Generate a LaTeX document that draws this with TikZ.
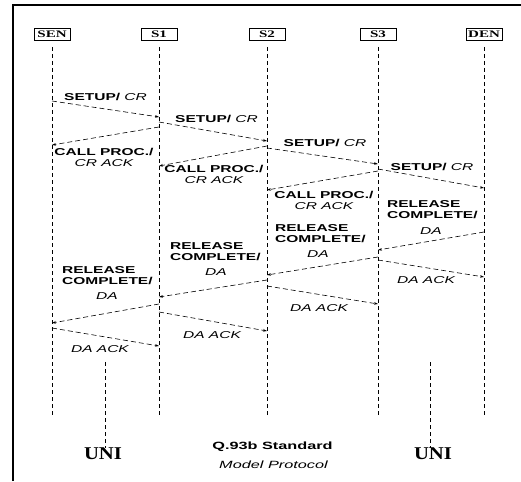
\documentclass[tikz,border=0pt]{standalone}
\usepackage{fontspec}
\usepackage{tikz}
\usetikzlibrary{arrows.meta, positioning}

\newfontfamily\lblfont[FakeStretch=1.55]{Liberation Sans}
\newfontfamily\hdrfont[FakeStretch=1.5]{Liberation Serif}
\newfontfamily\unifont[FakeStretch=1.15]{Liberation Serif}
\newcommand{\msgit}[1]{{\mdseries\itshape #1}}

\begin{document}
\begin{tikzpicture}[
  x=1pt, y=-1pt,
  hdr/.style={draw, line width=0.7pt, minimum width=36pt, minimum height=12pt,
              inner sep=1pt, font=\hdrfont\bfseries\fontsize{10}{10}\selectfont},
  life/.style={line width=0.7pt, dash pattern=on 4pt off 3pt},
  msg/.style={line width=0.6pt, dash pattern=on 5pt off 3pt,
              -{Stealth[length=4pt, width=2.6pt]}},
  lbl/.style={font=\lblfont\bfseries\fontsize{10}{11}\selectfont,
              inner sep=0pt, align=center},
  rel/.style={lbl, align=left, anchor=west},
  uni/.style={font=\unifont\bfseries\fontsize{18}{20}\selectfont, inner sep=0pt}
]
  \useasboundingbox (0,0) rectangle (521,481);

  % Frame
  \draw[line width=1.5pt] (13,481) -- (13,5) -- (521,5);

  % Headers
  \node[hdr] (sen) at (52,34)  {SEN};
  \node[hdr] (s1)  at (159,34) {S1};
  \node[hdr] (s2)  at (267,34) {S2};
  \node[hdr] (s3)  at (378,34) {S3};
  \node[hdr] (den) at (484,34) {DEN};

  % Lifelines
  \draw[life] (sen |- 0,47) -- (sen |- 0,415);
  \draw[life] (s1 |- 0,47)  -- (s1 |- 0,415);
  \draw[life] (s2 |- 0,47)  -- (s2 |- 0,415);
  \draw[life] (s3 |- 0,47)  -- (s3 |- 0,415);
  \draw[life] (den |- 0,47) -- (den |- 0,415);

  % SETUP / CALL PROC.
  \draw[msg] (sen |- 0,101) -- (s1 |- 0,117);
  \node[lbl] (m1) at (105.5,97) {SETUP/ \msgit{CR}};
  \draw[msg] (s1 |- 0,122) -- (s2 |- 0,141);
  \node[lbl] (m2) at (216.5,119) {SETUP/ \msgit{CR}};
  \draw[msg] (s1 |- 0,127) -- (sen |- 0,145);
  \node[lbl] (m3) at (104,157.5) {CALL PROC./\\\msgit{CR ACK}};
  \draw[msg] (s2 |- 0,148) -- (s3 |- 0,164);
  \node[lbl] (m4) at (325,143) {SETUP/ \msgit{CR}};
  \draw[msg] (s2 |- 0,146) -- (s1 |- 0,166);
  \node[lbl] (m5) at (214,174.5) {CALL PROC./\\\msgit{CR ACK}};
  \draw[msg] (s3 |- 0,169) -- (den |- 0,188);
  \node[lbl] (m6) at (432,167) {SETUP/ \msgit{CR}};
  \draw[msg] (s3 |- 0,171) -- (s2 |- 0,190);
  \node[lbl] (m7) at (324,200) {CALL PROC./\\\msgit{CR ACK}};

  % RELEASE COMPLETE / DA ACK
  \draw[msg] (den |- 0,232) -- (s3 |- 0,250);
  \node[rel] (m8) at (387,210) {RELEASE\\COMPLETE/};
  \node[lbl] (m8da) at (431,231) {\msgit{DA}};
  \draw[msg] (s3 |- 0,257) -- (s2 |- 0,275);
  \node[rel] (m9) at (275,233.5) {RELEASE\\COMPLETE/};
  \node[lbl] (m9da) at (318,254) {\msgit{DA}};
  \draw[msg] (s3 |- 0,260) -- (den |- 0,277);
  \node[lbl] (m10) at (426,280) {\msgit{DA ACK}};
  \draw[msg] (s2 |- 0,280) -- (s1 |- 0,297);
  \node[rel] (m11) at (170,251.5) {RELEASE\\COMPLETE/};
  \node[lbl] (m11da) at (216,272) {\msgit{DA}};
  \draw[msg] (s2 |- 0,286) -- (s3 |- 0,304);
  \node[lbl] (m12) at (319,308) {\msgit{DA ACK}};
  \draw[msg] (s1 |- 0,304) -- (sen |- 0,323);
  \node[rel] (m13) at (62,275.5) {RELEASE\\COMPLETE/};
  \node[lbl] (m13da) at (107,296) {\msgit{DA}};
  \draw[msg] (s1 |- 0,312) -- (s2 |- 0,331);
  \node[lbl] (m14) at (212,335) {\msgit{DA ACK}};
  \draw[msg] (sen |- 0,328) -- (s1 |- 0,346);
  \node[lbl] (m15) at (100,349) {\msgit{DA ACK}};

  % UNI markers
  \node[uni] (uni1) at (103,454) {UNI};
  \node[uni] (uni2) at (433,454) {UNI};
  \coordinate (unitop1) at (105,362);
  \coordinate (unitop2) at (430,362);
  \draw[life] (unitop1) -- (unitop1 |- uni1.north);
  \draw[life] (unitop2) -- (unitop2 |- uni2.north);

  % Caption
  \node[lbl, font=\lblfont\bfseries\fontsize{10.5}{12}\selectfont] (title) at (272.5,447) {Q.93b Standard};
  \node[lbl, font=\lblfont\itshape\fontsize{10.5}{12}\selectfont] (subtitle) at (273.5,465) {Model Protocol};
\end{tikzpicture}
\end{document}
